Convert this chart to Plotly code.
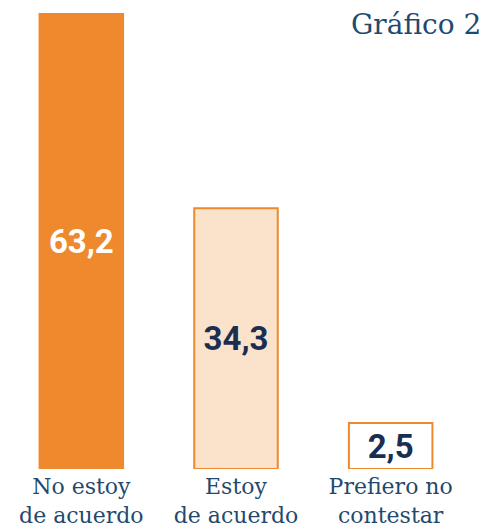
"""Gráfico 2: bar chart of agreement responses."""
import plotly.graph_objects as go

categories = ["No estoy<br>de acuerdo", "Estoy<br>de acuerdo", "Prefiero no<br>contestar"]
values = [63.2, 34.3, 2.5]

ORANGE = "#EE892E"
PEACH = "#FBE2CB"
NAVY = "#1A2E52"
LABEL_BLUE = "#1F4A6E"

fills = [ORANGE, PEACH, "#FFFFFF"]
text_colors = ["#FFFFFF", NAVY, NAVY]
BASE = -4.3  # bars in the original start a little below zero

# bar length measured from the base, so each top lands on its value
lengths = [v - BASE for v in values]
labels = [f"{v:.1f}".replace(".", ",") for v in values]

fig = go.Figure(
    go.Bar(
        x=categories,
        y=lengths,
        base=BASE,
        width=0.54,
        marker=dict(color=fills, line=dict(color=ORANGE, width=2)),
        text=labels,
        textposition="inside",
        insidetextanchor="middle",
        textangle=0,
        textfont=dict(family="Roboto", size=33, color=text_colors, weight="bold"),
        hoverinfo="skip",
    )
)

fig.add_annotation(
    text="Gráfico 2",
    xref="paper",
    yref="paper",
    x=1,
    y=1,
    xanchor="right",
    yanchor="top",
    xshift=15,
    yshift=7,
    showarrow=False,
    font=dict(family="DejaVu Serif", size=28, color=LABEL_BLUE),
)

fig.update_layout(
    width=486,
    height=531,
    margin=dict(l=4, r=18, t=13, b=62),
    paper_bgcolor="white",
    plot_bgcolor="white",
    showlegend=False,
    uniformtext=dict(minsize=33, mode="show"),
    xaxis=dict(
        showgrid=False,
        showline=False,
        zeroline=False,
        ticks="",
        automargin=False,
        ticklabelstandoff=2,
        tickfont=dict(family="DejaVu Serif", size=22, color=LABEL_BLUE),
    ),
    yaxis=dict(
        range=[BASE, 63.2],
        visible=False,
        showgrid=False,
        zeroline=False,
    ),
)

# drop the browser's default page margin so the figure sits at the corner
fig.write_html(
    "out.html",
    config={"displayModeBar": False},
    post_script="document.body.style.margin = '0';",
)
